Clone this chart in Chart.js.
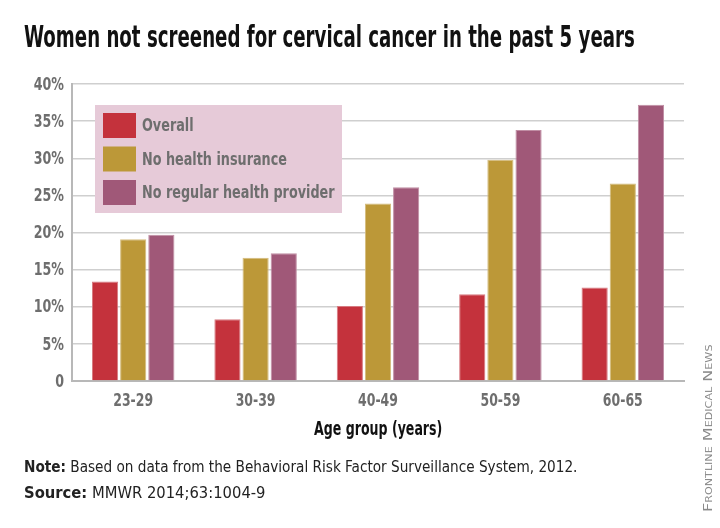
<!DOCTYPE html>
<html>
<head>
<meta charset="utf-8">
<script src="https://cdn.jsdelivr.net/npm/chart.js@4.4.1/dist/chart.umd.min.js"></script>
<style>
  html, body { margin: 0; padding: 0; background: #fff; }
  #wrap { position: relative; width: 720px; height: 528px; overflow: hidden; font-family: "DejaVu Sans Condensed", sans-serif; }
  #chart { position: absolute; left: 0; top: 0; }
  .fit { position: absolute; white-space: nowrap; transform-origin: 0 0; }
  #title { left: 24px; top: 18px; font-size: 31px; font-weight: bold; color: #111; }
  #xtitle { left: 314px; top: 416px; font-size: 20px; font-weight: bold; color: #111; }
  .note { left: 24px; font-size: 16px; color: #222; }
  #brand { position: absolute; left: 700px; top: 512px; transform-origin: 0 0; font-family: "DejaVu Sans", sans-serif; font-size: 13px; font-variant: small-caps; color: #8a8a8a; white-space: nowrap; }
</style>
</head>
<body>
<div id="wrap">
  <canvas id="chart" width="720" height="528"></canvas>
  <div id="title" class="fit" data-w="611">Women not screened for cervical cancer in the past 5 years</div>
  <div id="xtitle" class="fit" data-w="128">Age group (years)</div>
  <div id="note1" class="fit note" style="top:457px" data-w="553"><b>Note:</b> Based on data from the Behavioral Risk Factor Surveillance System, 2012.</div>
  <div id="note2" class="fit note" style="top:483px" data-w="242"><b>Source:</b> MMWR 2014;63:1004-9</div>
  <div id="brand">Frontline Medical News</div>
</div>
<script>
/* ===== data ===== */
const ageGroups = ['23-29', '30-39', '40-49', '50-59', '60-65'];
const overall = [13.4, 8.3, 10.1, 11.7, 12.6];
const noInsurance = [19.1, 16.6, 23.9, 29.8, 26.6];
const noProvider = [19.7, 17.2, 26.1, 33.8, 37.2];
const yTicks = [0, 5, 10, 15, 20, 25, 30, 35, 40];

const seriesNames = ['Overall', 'No health insurance', 'No regular health provider'];
const seriesColors = ['#C4323C', '#BC9838', '#A05878'];
const seriesEdges = ['#D67A80', '#D4BC7E', '#C08EA4'];

const FONT = '"DejaVu Sans Condensed", sans-serif';
const LABEL_GRAY = '#6e6e6e';

// squeeze html text to the width it has in the reference
document.querySelectorAll('.fit').forEach(el => {
  const k = +el.dataset.w / el.offsetWidth;
  el.style.transform = `scaleX(${k})`;
});
const brand = document.getElementById('brand');
brand.style.transform = `rotate(-90deg) scaleX(${167 / brand.offsetWidth})`;

// condensed text helper for the canvas
function narrowText(ctx, txt, x, y, k, align) {
  ctx.save();
  ctx.translate(x, y);
  ctx.scale(k, 1);
  ctx.textAlign = align;
  ctx.fillText(txt, 0, 0);
  ctx.restore();
}

// tick labels, squeezed like the reference face
const narrowTicks = {
  id: 'narrowTicks',
  afterDraw(chart) {
    const ctx = chart.ctx;
    const { x, y } = chart.scales;
    ctx.save();
    ctx.fillStyle = LABEL_GRAY;
    ctx.font = 'bold 18px ' + FONT;
    ctx.textBaseline = 'middle';
    y.ticks.forEach(t => {
      narrowText(ctx, t.value === 0 ? '0' : t.value + '%', 64, y.getPixelForValue(t.value) + 1, 0.78, 'right');
    });
    chart.data.labels.forEach((lab, i) => {
      narrowText(ctx, lab, x.getPixelForValue(i), 401, 0.77, 'center');
    });
    ctx.restore();
  }
};

// legend box drawn inside the plot
const boxLegend = {
  id: 'boxLegend',
  afterDatasetsDraw(chart) {
    const ctx = chart.ctx;
    ctx.save();
    ctx.fillStyle = '#E6CAD8';
    ctx.fillRect(95, 105, 247, 108);
    ctx.font = 'bold 18px ' + FONT;
    ctx.textBaseline = 'middle';
    chart.data.datasets.forEach((ds, i) => {
      const y = 113 + i * 33.5;
      ctx.fillStyle = ds.backgroundColor;
      ctx.fillRect(103, y, 33, 25);
      ctx.fillStyle = LABEL_GRAY;
      narrowText(ctx, ds.label, 142, y + 13.5, 0.79, 'left');
    });
    ctx.restore();
  }
};

const datasets = [overall, noInsurance, noProvider].map((vals, i) => ({
  label: seriesNames[i],
  data: vals,
  backgroundColor: seriesColors[i],
  borderColor: seriesEdges[i],
  borderWidth: 1,
  categoryPercentage: 0.69,
  barPercentage: 0.93
}));

new Chart(document.getElementById('chart'), {
  type: 'bar',
  data: { labels: ageGroups, datasets },
  options: {
    responsive: false,
    animation: false,
    layout: { padding: { top: 84, right: 36, bottom: 0, left: 0 } },
    plugins: { legend: { display: false }, tooltip: { enabled: false } },
    scales: {
      x: {
        grid: { display: false, drawTicks: false },
        border: { color: '#b8b8b8', width: 2 },
        ticks: { display: false },
        afterFit: s => { s.height = 528 - 381; }
      },
      y: {
        min: 0, max: 40,
        afterBuildTicks: s => { s.ticks = yTicks.map(v => ({ value: v })); },
        grid: { color: '#cfcfcf', lineWidth: 1.5, drawTicks: false },
        border: { color: '#b8b8b8', width: 2 },
        ticks: { display: false },
        afterFit: s => { s.width = 72; }
      }
    }
  },
  plugins: [boxLegend, narrowTicks]
});
</script>
</body>
</html>
